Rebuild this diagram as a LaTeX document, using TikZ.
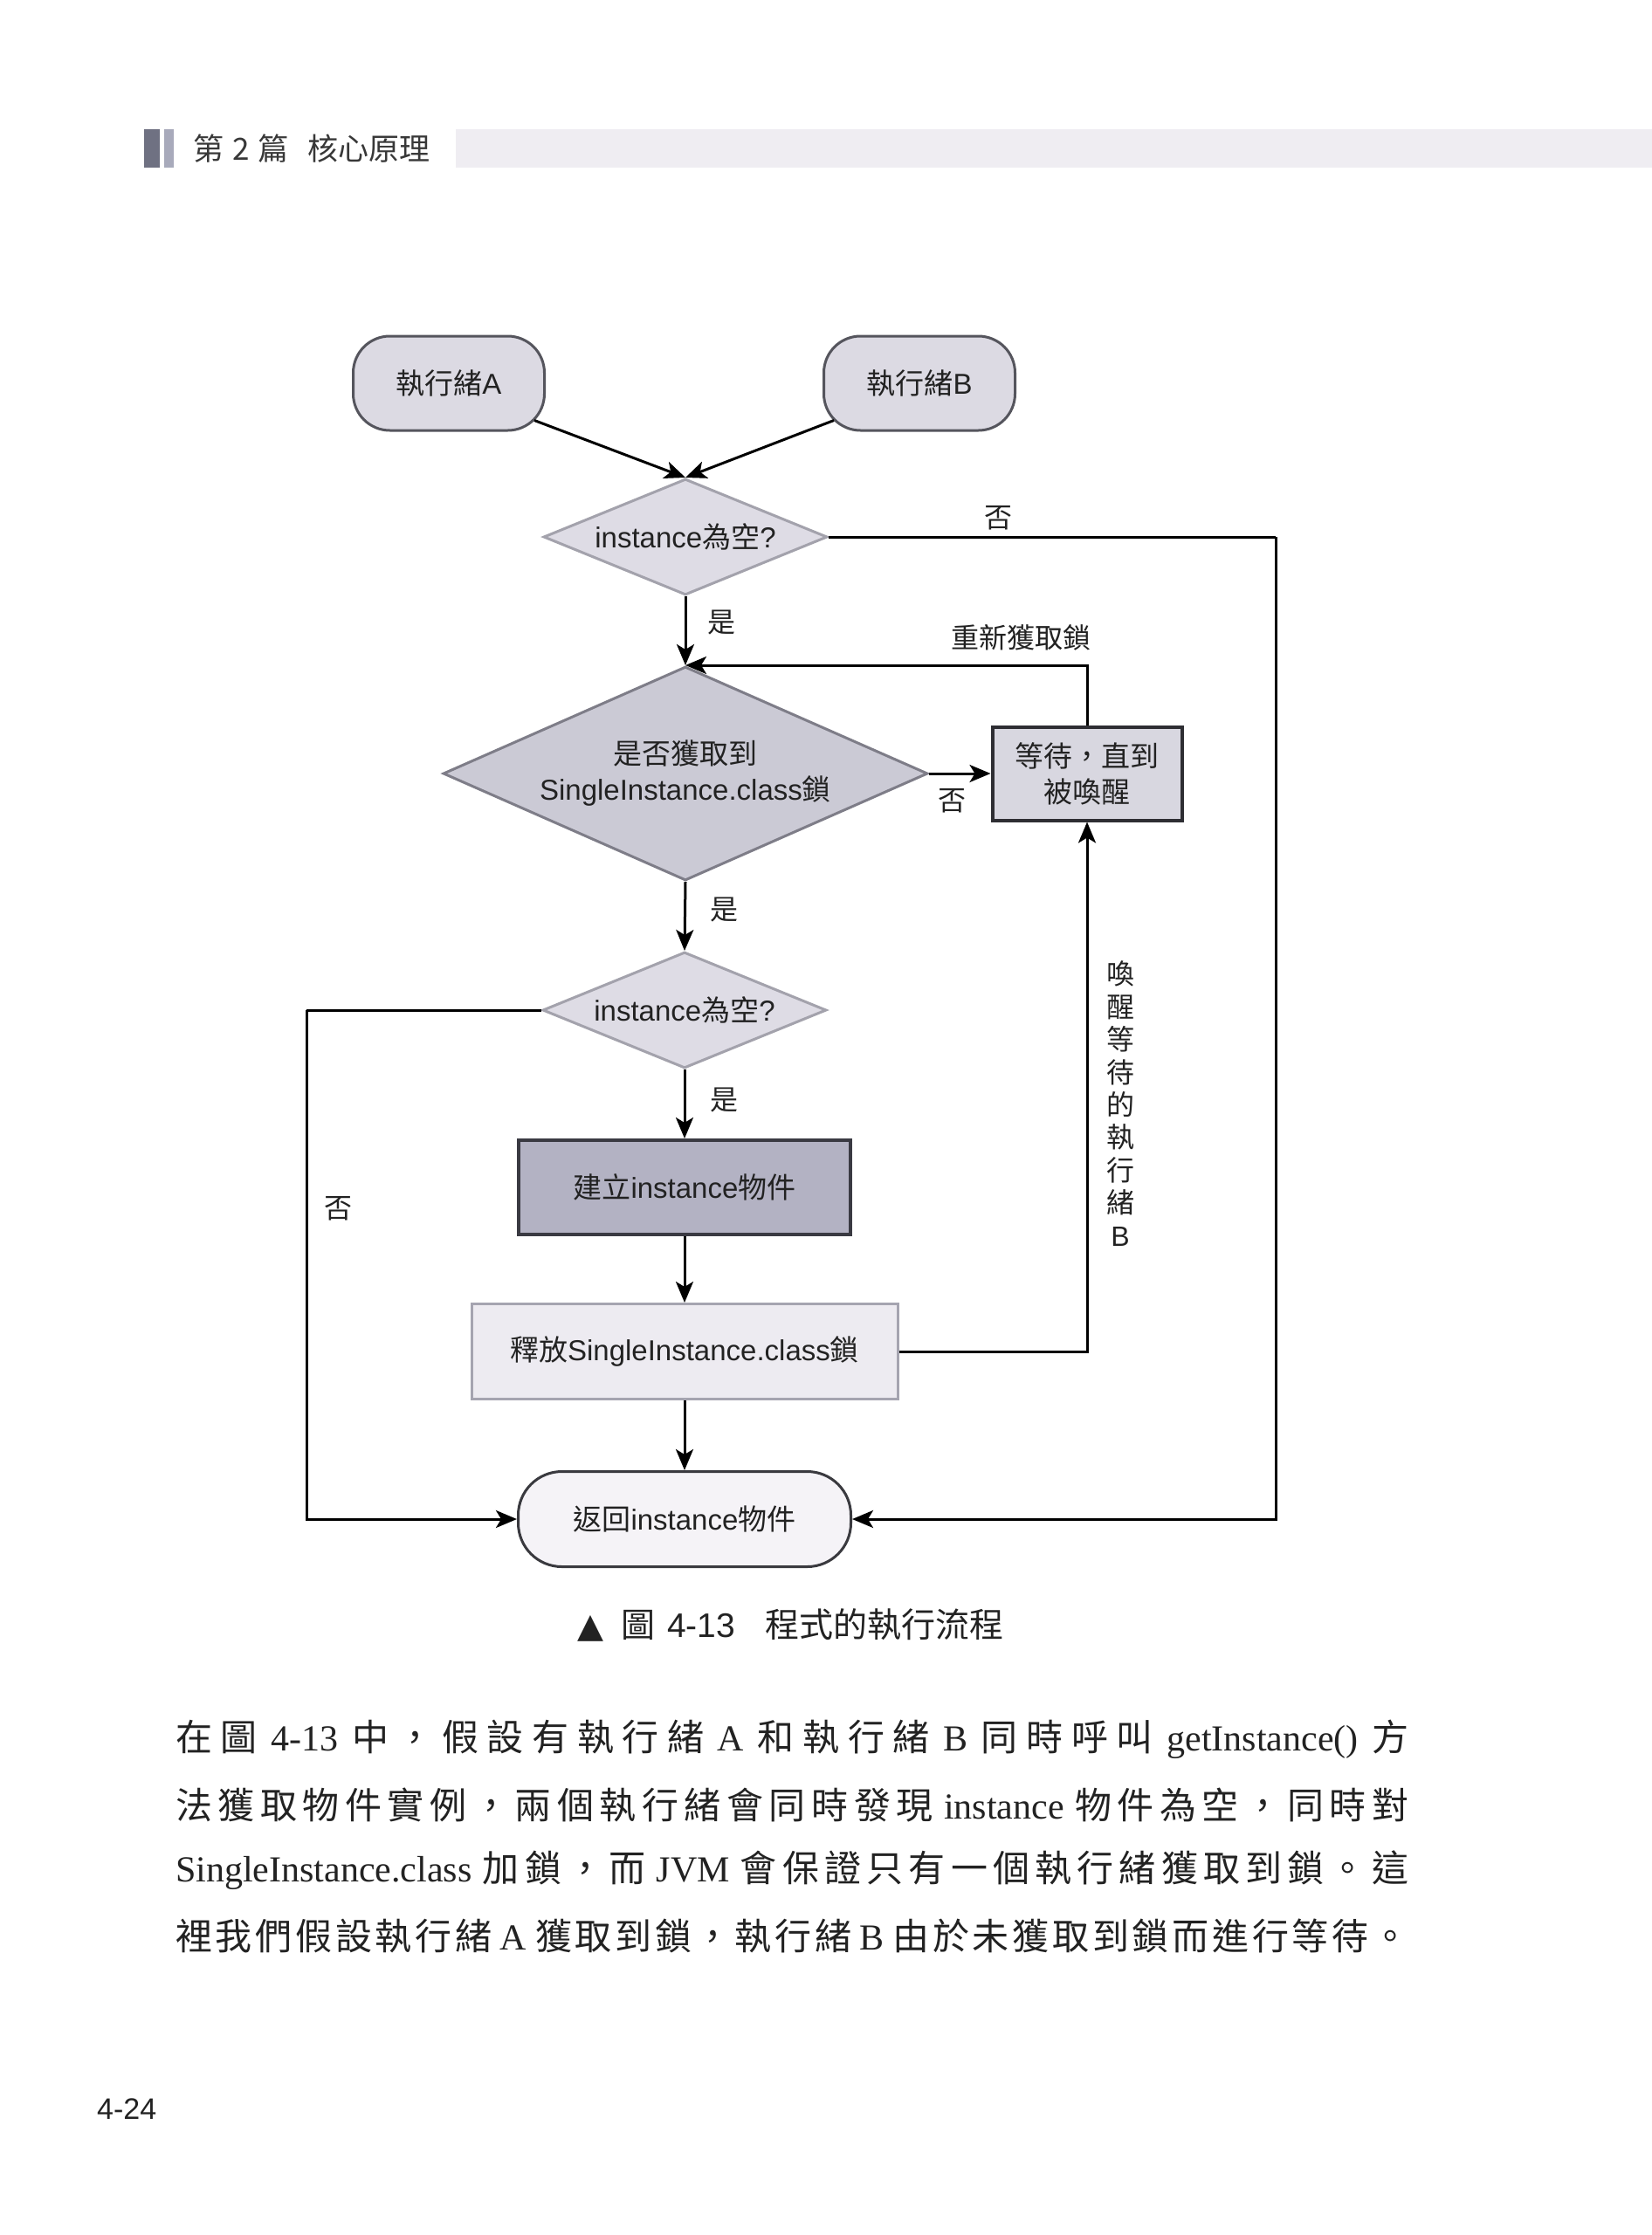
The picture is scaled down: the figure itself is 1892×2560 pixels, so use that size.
\documentclass[tikz,border=0pt]{standalone}
\usepackage{fontspec}
\setmainfont{Liberation Sans}
\newfontfamily\cjk{Noto Sans CJK TC}
\newfontfamily\serifL{Liberation Serif}
\newfontfamily\dvs{DejaVu Sans}
\usetikzlibrary{shapes.geometric,arrows.meta,calc}

\definecolor{hdrdark}{HTML}{6F7182}
\definecolor{hdrmid}{HTML}{A8AABB}
\definecolor{hdrlight}{HTML}{EFEDF2}
\definecolor{stfill}{HTML}{DCDAE3}
\definecolor{stdraw}{HTML}{55555D}
\definecolor{diafill}{HTML}{DEDCE5}
\definecolor{diadraw}{HTML}{A3A2AC}
\definecolor{dtwofill}{HTML}{CBCAD5}
\definecolor{dtwodraw}{HTML}{7E7D88}
\definecolor{waitfill}{HTML}{D8D7E0}
\definecolor{waitdraw}{HTML}{2E2E33}
\definecolor{makefill}{HTML}{B3B2C3}
\definecolor{makedraw}{HTML}{3A3A42}
\definecolor{relfill}{HTML}{EDEBF1}
\definecolor{reldraw}{HTML}{A5A4B0}
\definecolor{retfill}{HTML}{F5F3F7}
\definecolor{retdraw}{HTML}{3A3A3F}
\definecolor{txt}{HTML}{222222}

\def\jst#1{\jstA#1\relax}
\def\jstA#1{\ifx\relax#1\unskip\else{#1}\hskip0pt plus 1fil\expandafter\jstA\fi}

\tikzset{
  base/.style={font=\fontsize{33}{41}\selectfont, inner sep=0pt, align=center, text=txt},
  startn/.style={base, draw=stdraw, fill=stfill, line width=3pt, rounded corners=42pt,
    minimum width=219pt, minimum height=108pt},
  dia/.style={base, diamond, draw=diadraw, fill=diafill, line width=3pt,
    minimum width=325pt, minimum height=133pt, shape aspect=2.4},
  diatwo/.style={base, diamond, draw=dtwodraw, fill=dtwofill, line width=3pt,
    minimum width=555pt, minimum height=245pt, shape aspect=2.27},
  waitn/.style={base, draw=waitdraw, fill=waitfill, line width=4pt,
    minimum width=217pt, minimum height=107pt},
  maken/.style={base, draw=makedraw, fill=makefill, line width=4pt,
    minimum width=380pt, minimum height=108pt},
  reln/.style={base, draw=reldraw, fill=relfill, line width=3pt,
    minimum width=488pt, minimum height=109pt},
  retn/.style={base, draw=retdraw, fill=retfill, line width=3pt, rounded corners=50pt,
    minimum width=381pt, minimum height=109pt},
  lbl/.style={font=\cjk\fontsize{32}{37.4}\selectfont, inner sep=0pt, text=txt, align=center},
  conn/.style={line width=3pt, draw=black},
  arr/.style={conn, -{Stealth[length=24pt,width=20pt,inset=6pt]}},
  body/.style={anchor=west, inner sep=0pt, text=txt, font=\cjk\fontsize{42}{50}\selectfont},
}

\begin{document}
\begin{tikzpicture}[x=1pt,y=-1pt]
\useasboundingbox (0,0) rectangle (1892,2560);
\fill[white] (0,0) rectangle (1892,2560);

% header
\fill[hdrdark] (165,148) rectangle (183,192);
\fill[hdrmid] (188,148) rectangle (199,192);
\fill[hdrlight] (522,148) rectangle (1892,192);
\node[anchor=west, inner sep=0pt, text=txt!90, font=\cjk\fontsize{35}{42}\selectfont] (hdr) at (221,170) {第\hspace{10pt}2\hspace{10pt}篇\hspace{22pt}核心原理};

% nodes
\node[startn] (A) at (514,439) {{\cjk 執行緒}A};
\node[startn] (B) at (1053,439) {{\cjk 執行緒}B};
\node[dia] (D1) at (785,615) {instance{\cjk 為空}?};
\node[diatwo] (D2) at (785,886) {{\cjk 是否獲取到}\\SingleInstance.class{\cjk 鎖}};
\node[waitn] (W) at (1245,886) {{\cjk 等待，直到}\\{\cjk 被喚醒}};
\node[dia] (D3) at (784,1157) {instance{\cjk 為空}?};
\node[maken] (M) at (784,1360) {{\cjk 建立}instance{\cjk 物件}};
\node[reln] (Rel) at (784,1548) {{\cjk 釋放}SingleInstance.class{\cjk 鎖}};
\node[retn] (R) at (784,1740) {{\cjk 返回}instance{\cjk 物件}};

\coordinate (rc) at (1461,615);
\coordinate (lc) at (351,1157);

% connectors
\draw[arr] ($(A.south east)+(-13,-13)$) -- (D1.north);
\draw[arr] ($(B.south west)+(13,-13)$) -- (D1.north);
\draw[conn] (D1.east) -- (rc);
\draw[arr] (rc) |- (R.east);
\draw[arr] (D1.south) -- (D2.north);
\draw[arr] (W.north) |- (D2.north);
\draw[arr] (D2.east) -- (W.west);
\draw[arr] (D2.south) -- (D3.north);
\draw[conn] (D3.west) -- (lc);
\draw[arr] (lc) |- (R.west);
\draw[arr] (D3.south) -- (M.north);
\draw[arr] (M.south) -- (Rel.north);
\draw[arr] (Rel.east) -| (W.south);
\draw[arr] (Rel.south) -- (R.north);

% labels
\node[lbl] (no1) at (1143,593) {否};
\node[lbl] (yes1) at (826,713) {是};
\node[lbl] (relock) at (1169,730) {重新獲取鎖};
\node[lbl] (no2) at (1090,917) {否};
\node[lbl] (yes2) at (829,1042) {是};
\node[lbl] (yes3) at (829,1260) {是};
\node[lbl] (no3) at (387,1384) {否};
\node[lbl] (wake) at (1283,1264) {喚\\醒\\等\\待\\的\\執\\行\\緒\\{\rmfamily B}};

% caption
\node[anchor=west, inner sep=0pt, text=txt, font=\fontsize{39}{44}\selectfont] (cap) at (661,1861)
  {{\dvs ▲}\hspace{20pt}{\cjk 圖}\hspace{14pt}4-13\hspace{34pt}{\cjk 程式的執行流程}};

% body text
\node[body] (l1) at (201,1992) {\makebox[1412pt][s]{\jst{在圖{\serifL\hskip6pt 4-13\hskip6pt}中，假設有執行緒{\serifL\hskip6pt A\hskip6pt}和執行緒{\serifL\hskip6pt B\hskip6pt}同時呼叫{\serifL\hskip6pt getInstance()\hskip6pt}方}}};
\node[body] (l2) at (201,2067) {\makebox[1412pt][s]{\jst{法獲取物件實例，兩個執行緒會同時發現{\serifL\hskip6pt instance\hskip6pt}物件為空，同時對}}};
\node[body] (l3) at (201,2142) {\makebox[1412pt][s]{\jst{{\serifL SingleInstance.class\hskip6pt}加鎖，而{\serifL\hskip6pt JVM\hskip6pt}會保證只有一個執行緒獲取到鎖。這}}};
\node[body] (l4) at (201,2217) {\makebox[1412pt][s]{\jst{裡我們假設執行緒{\serifL\hskip6pt A\hskip6pt}獲取到鎖，執行緒{\serifL\hskip6pt B\hskip6pt}由於未獲取到鎖而進行等待。}}};

% page number
\node[anchor=west, inner sep=0pt, text=txt, font=\fontsize{34}{40}\selectfont] (pg) at (111,2416) {4-24};
\end{tikzpicture}
\end{document}
